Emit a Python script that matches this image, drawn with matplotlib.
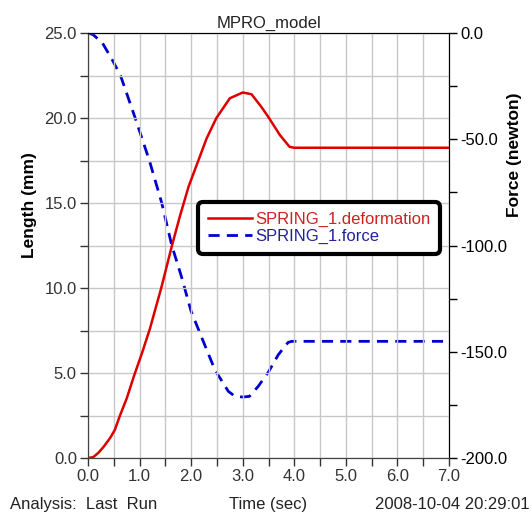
import matplotlib
matplotlib.use("Agg")
import matplotlib.pyplot as plt
from matplotlib.ticker import MultipleLocator, FormatStrFormatter

plt.rcParams['font.family'] = ['Liberation Sans', 'DejaVu Sans']

# SPRING_1.deformation (mm)
t_def = [0.0, 0.1, 0.2, 0.3, 0.43, 0.52, 0.62, 0.75, 0.9, 1.05, 1.2, 1.42, 1.62,
         1.78, 1.95, 2.14, 2.3, 2.49, 2.75, 3.0, 3.17, 3.36, 3.51, 3.72, 3.91, 4.0, 7.0]
deformation = [0.0, 0.05, 0.3, 0.65, 1.18, 1.65, 2.5, 3.5, 4.9, 6.2, 7.6, 10.0, 12.4,
               14.2, 15.96, 17.5, 18.8, 20.0, 21.16, 21.5, 21.4, 20.66, 20.0, 19.0, 18.3, 18.25, 18.25]

# SPRING_1.force (newton)
t_force = [0.0, 0.1, 0.28, 0.47, 0.63, 0.915, 1.19, 1.43, 1.625, 1.81, 2.0, 2.2, 2.46,
           2.72, 2.85, 3.0, 3.13, 3.3, 3.5, 3.69, 3.88, 3.95, 7.0]
force = [0.0, -0.8, -4.7, -12.6, -20.0, -40.0, -60.0, -80.0, -100.0, -114.5, -131.0, -143.0, -158.5,
         -168.6, -171.0, -171.3, -171.0, -166.3, -159.5, -151.4, -145.6, -145.1, -145.1]

fig = plt.figure(figsize=(5.32, 5.14), dpi=100)
ax = fig.add_axes([88 / 532, 56 / 514, 361 / 532, 425 / 514])
ax2 = ax.twinx()

l1, = ax.plot(t_def, deformation, color='#dd0000', lw=1.8, label='SPRING_1.deformation')
l2, = ax2.plot(t_force, force, color='#0000cc', lw=2, ls=(0, (4, 2.6)), label='SPRING_1.force')

ax.set_xlim(0, 7)
ax.set_ylim(0, 25)
ax2.set_ylim(-200, 0)

ax.xaxis.set_major_locator(MultipleLocator(1))
ax.xaxis.set_minor_locator(MultipleLocator(0.5))
ax.yaxis.set_major_locator(MultipleLocator(5))
ax.yaxis.set_minor_locator(MultipleLocator(2.5))
ax2.yaxis.set_major_locator(MultipleLocator(50))
ax2.yaxis.set_minor_locator(MultipleLocator(25))
ax.xaxis.set_major_formatter(FormatStrFormatter('%.1f'))
ax.yaxis.set_major_formatter(FormatStrFormatter('%.1f'))
ax2.yaxis.set_major_formatter(FormatStrFormatter('%.1f'))

ax.grid(True, which='both', color='#c8c8c8', lw=1)
ax.set_axisbelow(True)

for a in (ax, ax2):
    a.tick_params(which='both', direction='out', length=6, width=1, labelsize=12,
                  colors='#333333', labelcolor='#333333', pad=2)
ax2.tick_params(which='both', colors='black')

for s in ('left', 'bottom'):
    ax.spines[s].set_color('#444444')
ax2.spines['right'].set_color('black')
ax2.spines['top'].set_linewidth(0.8)

ax.set_title('MPRO_model', fontsize=12, color='#222222', pad=4)
ax.set_ylabel('Length (mm)', fontsize=12.5, fontweight='bold')
ax.yaxis.set_label_coords(-0.14, 0.595)
ax2.set_ylabel('Force (newton)', fontsize=12.5, fontweight='bold', rotation=90)
ax2.yaxis.set_label_coords(1.16, 0.713)

leg = ax.legend(handles=[l1, l2], loc='upper right', bbox_to_anchor=(0.994, 0.619),
                fontsize=12, handlelength=2.6, handletextpad=0.2, borderpad=0.5,
                labelspacing=0.15, framealpha=1, fancybox=True)
leg.get_frame().set_edgecolor('black')
leg.get_frame().set_linewidth(3)
leg.get_frame().set_boxstyle('round', pad=0.1, rounding_size=0.3)
leg.get_texts()[0].set_color('#cc2222')
leg.get_texts()[1].set_color('#222299')
ax.set_zorder(ax2.get_zorder() + 1)
ax.patch.set_visible(False)

fig.text(10 / 532, 0.004, 'Analysis:  Last  Run', fontsize=12, color='#222222', va='bottom', ha='left')
fig.text(268 / 532, 0.004, 'Time (sec)', fontsize=12, color='#222222', va='bottom', ha='center')
fig.text(530 / 532, 0.004, '2008-10-04 20:29:01', fontsize=12, color='#222222', va='bottom', ha='right')

fig.savefig('out.png', dpi=100)
